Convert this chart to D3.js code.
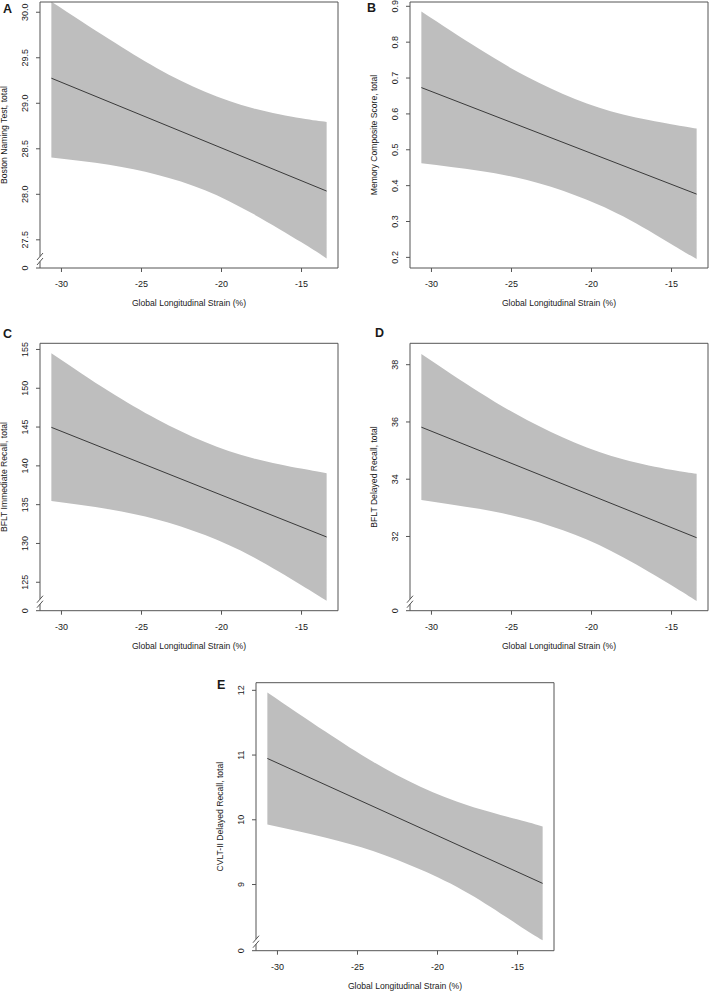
<!DOCTYPE html>
<html>
<head>
<meta charset="utf-8">
<script src="https://cdn.jsdelivr.net/npm/d3@7"></script>
<style>
  html, body { margin: 0; padding: 0; background: #fff; }
  svg { display: block; }
  text { font-family: "Liberation Sans", Arial, Helvetica, sans-serif; fill: #1a1a1a; }
</style>
</head>
<body>
<svg id="chart" width="709" height="992"></svg>
<script>
// ---------------- DATA ----------------
const panelIds = ["A", "B", "C", "D", "E"];
const yTitles = [
  "Boston Naming Test, total",
  "Memory Composite Score, total",
  "BFLT Immediate Recall, total",
  "BFLT Delayed Recall, total",
  "CVLT-II Delayed Recall, total"
];
const xTicks = [-30, -25, -20, -15];
const xTitle = "Global Longitudinal Strain (%)";
const xDomain = [-31.31, -12.69];

// x positions at which the confidence band edges were read
const bandX = [-30.6, -27, -24, -21, -18, -15, -13.4];
// fitted line endpoints (x)
const fitX = [-30.6, -13.4];

// Panel A
const fitA = [29.27, 28.03];
const upperA = [30.11, 29.70, 29.38, 29.12, 28.94, 28.83, 28.79];
const lowerA = [28.40, 28.32, 28.21, 28.04, 27.78, 27.47, 27.29];
const yTicksA = [27.5, 28.0, 28.5, 29.0, 29.5, 30.0];
const yDomainA = [27.185, 30.107];

// Panel B
const fitB = [0.672, 0.375];
const upperB = [0.884, 0.780, 0.702, 0.640, 0.597, 0.570, 0.558];
const lowerB = [0.461, 0.440, 0.414, 0.372, 0.313, 0.236, 0.194];
const yTicksB = [0.2, 0.3, 0.4, 0.5, 0.6, 0.7, 0.8, 0.9];
const yDomainB = [0.169, 0.9106];

// Panel C
const fitC = [144.9, 130.77];
const upperC = [154.45, 149.54, 145.94, 143.0, 140.92, 139.58, 138.97];
const lowerC = [135.4, 134.34, 133.02, 131.02, 128.18, 124.58, 122.55];
const yTicksC = [125, 130, 135, 140, 145, 150, 155];
const yDomainC = [121.27, 155.73];

// Panel D
const fitD = [35.8, 31.94];
const upperD = [38.36, 37.03, 36.05, 35.26, 34.68, 34.31, 34.17];
const lowerD = [33.26, 32.95, 32.59, 32.04, 31.26, 30.29, 29.73];
const yTicksD = [32, 34, 36, 38];
const yDomainD = [29.39, 38.73];

// Panel E
const fitE = [10.94, 9.01];
const upperE = [11.96, 11.36, 10.89, 10.50, 10.21, 10.00, 9.89];
const lowerE = [9.92, 9.72, 9.51, 9.22, 8.85, 8.38, 8.13];
const yTicksE = [9, 10, 11, 12];
const yDomainE = [7.97, 12.11];

// axis-break label shown at the bottom of broken axes
const breakLabel = "0";
const hasBreak = [true, false, true, true, true];
const tickDecimals = [1, 1, 0, 0, 0];

// ---------------- LAYOUT ----------------
const layout = {
  A: { left: 40,  right: 338, top: 2,     bottom: 268,   lx: 3,   ly: 13 },
  B: { left: 410, right: 708, top: 2,     bottom: 268,   lx: 367, ly: 12 },
  C: { left: 40,  right: 338, top: 343.3, bottom: 610.7, lx: 3,   ly: 338 },
  D: { left: 410, right: 708, top: 343.3, bottom: 610.7, lx: 375, ly: 337 },
  E: { left: 256, right: 554, top: 682.7, bottom: 950.7, lx: 217, ly: 689 }
};

const series = {
  A: { fit: fitA, upper: upperA, lower: lowerA, ticks: yTicksA, domain: yDomainA },
  B: { fit: fitB, upper: upperB, lower: lowerB, ticks: yTicksB, domain: yDomainB },
  C: { fit: fitC, upper: upperC, lower: lowerC, ticks: yTicksC, domain: yDomainC },
  D: { fit: fitD, upper: upperD, lower: lowerD, ticks: yTicksD, domain: yDomainD },
  E: { fit: fitE, upper: upperE, lower: lowerE, ticks: yTicksE, domain: yDomainE }
};

const axisColor = "#555";
const bandColor = "#bebebe";
const lineColor = "#2a2a2a";
const tickFont = "9px";
const titleFont = "8.6px";

const svg = d3.select("#chart");

panelIds.forEach((id, i) => {
  const L = layout[id];
  const S = series[id];
  const g = svg.append("g");

  const x = d3.scaleLinear().domain(xDomain).range([L.left, L.right]);
  const y = d3.scaleLinear().domain(S.domain).range([L.bottom, L.top]);

  const clipId = "clip" + id;
  svg.append("clipPath").attr("id", clipId)
    .append("rect").attr("x", L.left).attr("y", L.top)
    .attr("width", L.right - L.left).attr("height", L.bottom - L.top);

  const bandData = bandX.map((xv, k) => ({ x: xv, u: S.upper[k], l: S.lower[k] }));
  const area = d3.area()
    .x(d => x(d.x)).y0(d => y(d.l)).y1(d => y(d.u))
    .curve(d3.curveNatural);
  g.append("path").datum(bandData)
    .attr("clip-path", `url(#${clipId})`)
    .attr("d", area).attr("fill", bandColor);

  const lineData = fitX.map((xv, k) => ({ x: xv, y: S.fit[k] }));
  g.append("path").datum(lineData)
    .attr("d", d3.line().x(d => x(d.x)).y(d => y(d.y)))
    .attr("fill", "none").attr("stroke", lineColor).attr("stroke-width", 0.9);

  // box (left edge possibly broken)
  const box = g.append("g").attr("stroke", axisColor).attr("stroke-width", 1).attr("fill", "none");
  box.append("line").attr("x1", L.left).attr("x2", L.right).attr("y1", L.top).attr("y2", L.top);
  box.append("line").attr("x1", L.right).attr("x2", L.right).attr("y1", L.top).attr("y2", L.bottom);
  box.append("line").attr("x1", L.left).attr("x2", L.right).attr("y1", L.bottom).attr("y2", L.bottom);
  if (hasBreak[i]) {
    const yc = L.bottom - 9;
    box.append("line").attr("x1", L.left).attr("x2", L.left).attr("y1", L.top).attr("y2", yc - 2.5);
    box.append("line").attr("x1", L.left).attr("x2", L.left).attr("y1", yc + 2.5).attr("y2", L.bottom);
    [-2.5, 2.5].forEach(off => {
      box.append("line")
        .attr("x1", L.left - 3).attr("y1", yc + off + 3.5)
        .attr("x2", L.left + 3).attr("y2", yc + off - 3.5);
    });
  } else {
    box.append("line").attr("x1", L.left).attr("x2", L.left).attr("y1", L.top).attr("y2", L.bottom);
  }

  // y axis ticks
  const fmt = d3.format("." + tickDecimals[i] + "f");
  const yAxis = d3.axisLeft(y).tickValues(S.ticks).tickFormat(fmt).tickSize(4).tickPadding(0);
  const ya = g.append("g").attr("transform", `translate(${L.left},0)`).call(yAxis);
  ya.select(".domain").remove();
  ya.selectAll(".tick line").attr("stroke", axisColor);
  ya.selectAll(".tick text")
    .attr("x", 0).attr("y", 0).attr("dy", "0.35em")
    .attr("text-anchor", "middle")
    .attr("transform", "translate(-15,0) rotate(-90)")
    .style("font-size", tickFont).style("font-family", null).attr("fill", "#1a1a1a");
  if (hasBreak[i]) {
    g.append("line").attr("x1", L.left - 4).attr("x2", L.left)
      .attr("y1", L.bottom).attr("y2", L.bottom).attr("stroke", axisColor);
    g.append("text").text(breakLabel)
      .attr("transform", `translate(${L.left - 15},${L.bottom}) rotate(-90)`)
      .attr("dy", "0.35em").attr("text-anchor", "middle")
      .style("font-size", tickFont);
  }

  // x axis ticks
  const xAxis = d3.axisBottom(x).tickValues(xTicks).tickFormat(d => String(d)).tickSize(4).tickPadding(0);
  const xa = g.append("g").attr("transform", `translate(0,${L.bottom})`).call(xAxis);
  xa.select(".domain").remove();
  xa.selectAll(".tick line").attr("stroke", axisColor);
  xa.selectAll(".tick text").attr("y", 16.3).attr("dy", "0.35em")
    .style("font-size", tickFont).style("font-family", null).attr("fill", "#1a1a1a");

  // titles
  g.append("text").text(xTitle)
    .attr("x", (L.left + L.right) / 2).attr("y", L.bottom + 35).attr("dy", "0.35em")
    .attr("text-anchor", "middle").style("font-size", titleFont);
  g.append("text").text(yTitles[i])
    .attr("transform", `translate(${L.left - 36},${(L.top + L.bottom) / 2}) rotate(-90)`)
    .attr("dy", "0.35em").attr("text-anchor", "middle").style("font-size", titleFont);

  // panel letter
  g.append("text").text(id).attr("x", L.lx).attr("y", L.ly)
    .style("font-size", "12.5px").style("font-weight", "bold").attr("fill", "#000");
});
</script>
</body>
</html>
